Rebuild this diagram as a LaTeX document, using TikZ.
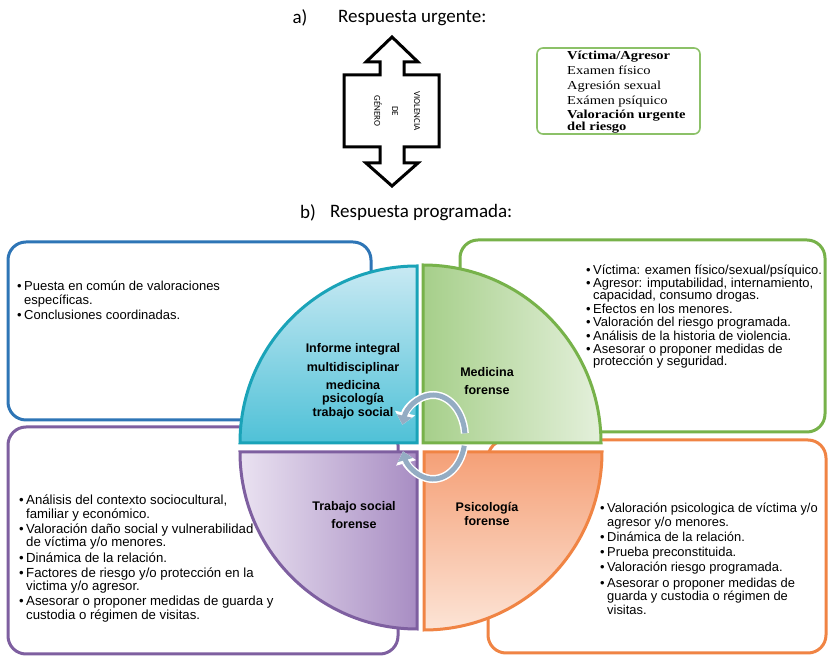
\documentclass[tikz,border=0pt]{standalone}
\usepackage{fontspec}
\setmainfont{Liberation Sans}
\newfontfamily\calib{Carlito}
\newfontfamily\tnr[FakeStretch=1.19]{Liberation Serif}
\usetikzlibrary{arrows.meta}
\definecolor{cBlueBox}{HTML}{2E75B6}
\definecolor{cGreenBox}{HTML}{77B24A}
\definecolor{cPurpleBox}{HTML}{7E5FA0}
\definecolor{cOrangeBox}{HTML}{F08444}
\definecolor{cTeal}{HTML}{1AA3B8}
\definecolor{cBlueTop}{HTML}{C8E9F3}
\definecolor{cBlueBot}{HTML}{4FC1D7}
\definecolor{cGreenL}{HTML}{A6CF8A}
\definecolor{cGreenR}{HTML}{E4F0DB}
\definecolor{cPurpL}{HTML}{EAE2F1}
\definecolor{cPurpR}{HTML}{A88DC3}
\definecolor{cOrT}{HTML}{F5A077}
\definecolor{cOrB}{HTML}{FCE4D6}
\definecolor{cCyc}{HTML}{94ACC3}
\definecolor{cUrgBox}{HTML}{8CC168}
\newcommand\bi{\makebox[7pt][l]{\textbullet}}
\newcommand\ci{\hspace*{7pt}}
\tikzset{
  infobox/.style={rounded corners=18pt, line width=3pt},
  sector/.style={line width=3pt},
  sectext/.style={align=center, inner sep=0pt},
  bultext/.style={align=left, inner sep=0pt, anchor=base west},
  ttl/.style={font=\calib\fontsize{19}{21}\selectfont, inner sep=0pt},
  urg/.style={font=\tnr\fontsize{12.2}{13}\selectfont, inner sep=0pt, anchor=base west},
  rot/.style={font=\calib\fontsize{9}{10}\selectfont, rotate=-90, inner sep=0pt},
}
\begin{document}
\begin{tikzpicture}[x=1pt,y=1pt]
\useasboundingbox[fill=white] (0,0) rectangle (828,658);

% ---------- a) ----------
\node[ttl] (ta) at (300,640) {a)};
\node[ttl, anchor=west] (tat) at (338,640) {Respuesta urgente:};

\draw[line width=3pt, line join=miter] (392,621) -- (418,596) -- (404,596) -- (404,583) -- (439,583)
  -- (439,511) -- (404,511) -- (404,495) -- (418,495) -- (392,472) -- (366,495) -- (380,495)
  -- (380,511) -- (344,511) -- (344,583) -- (380,583) -- (380,596) -- (366,596) -- cycle;
\node[rot] (v1) at (417,547) {VIOLENCIA};
\node[rot] (v2) at (395,547) {DE};
\node[rot] (v3) at (378,547) {GÉNERO};

\draw[cUrgBox, line width=1.6pt, rounded corners=6pt] (537,610) rectangle (700,524);
\node[urg] (u1) at (567,598.5) {\bfseries Víctima/Agresor};
\node[urg] (u2) at (567,583.5) {Examen físico};
\node[urg] (u3) at (567,568.5) {Agresión sexual};
\node[urg] (u4) at (567,553.5) {Exámen psíquico};
\node[urg] (u5) at (567,539) {\bfseries Valoración urgente};
\node[urg] (u6) at (567,527.5) {\bfseries del riesgo};

% ---------- b) ----------
\node[ttl] (tb) at (308,445) {b)};
\node[ttl, anchor=west] (tbt) at (330,445) {Respuesta programada:};

% boxes
\draw[infobox, cBlueBox] (8,416) rectangle (371,238);
\draw[infobox, cGreenBox] (460,418) rectangle (825,226);
\draw[infobox, cPurpleBox] (8,231) rectangle (398,4);
\draw[infobox, cOrangeBox] (488,218) rectangle (826,5);

% bullet texts (anchor = baseline of last line)
\node[bultext, font=\fontsize{13}{14.6}\selectfont] (tx1) at (17,338.5) {\bi Puesta en común de valoraciones\\ \ci específicas.\\ \bi Conclusiones coordinadas.};
\node[bultext, font=\fontsize{13}{12.4}\selectfont] (tx2) at (586,292) {\bi Víctima: examen físico/sexual/psíquico.\\[1pt]
\bi Agresor: imputabilidad, internamiento,\\ \ci capacidad, consumo drogas.\\[1pt]
\bi Efectos en los menores.\\[1pt]
\bi Valoración del riesgo programada.\\[1pt]
\bi Análisis de la historia de violencia.\\[1pt]
\bi Asesorar o proponer medidas de\\ \ci protección y seguridad.};
\node[bultext, font=\fontsize{13.2}{13.6}\selectfont] (tx3) at (19,38.5) {\bi Análisis del contexto sociocultural,\\ \ci familiar y económico.\\[1.5pt]
\bi Valoración daño social y vulnerabilidad\\ \ci de víctima y/o menores.\\[1.5pt]
\bi Dinámica de la relación.\\[1.5pt]
\bi Factores de riesgo y/o protección en la\\ \ci victima y/o agresor.\\[1.5pt]
\bi Asesorar o proponer medidas de guarda y\\ \ci custodia o régimen de visitas.};
\node[bultext, font=\fontsize{12.9}{13.7}\selectfont] (tx4) at (600,43.5) {\bi Valoración psicologica de víctima y/o\\ \ci agresor y/o menores.\\[1.5pt]
\bi Dinámica de la relación.\\[1.5pt]
\bi Prueba preconstituida.\\[1.5pt]
\bi Valoración riesgo programada.\\[1.5pt]
\bi Asesorar o proponer medidas de\\ \ci guarda y custodia o régimen de\\ \ci visitas.};

% sectors
\path[sector, draw=cTeal, top color=cBlueTop, bottom color=cBlueBot]
  (417,215) -- (240,215) arc[start angle=180, end angle=90, radius=177] -- cycle;
\path[sector, draw=cGreenBox, left color=cGreenL, right color=cGreenR]
  (423,215) -- (601,215) arc[start angle=0, end angle=90, radius=178] -- cycle;
\path[sector, draw=cPurpleBox, left color=cPurpL, right color=cPurpR]
  (417,206) -- (240,206) arc[start angle=180, end angle=270, radius=177] -- cycle;
\path[sector, draw=cOrangeBox, top color=cOrT, bottom color=cOrB]
  (424,206) -- (602,206) arc[start angle=0, end angle=-90, radius=178] -- cycle;

% sector labels
\node[sectext, font=\fontsize{12.5}{19}\selectfont\bfseries] (s1) at (353,299.5) {Informe integral\\ multidisciplinar};
\node[sectext, font=\fontsize{12.5}{13.5}\selectfont\bfseries] (s1b) at (353,258.5) {medicina\\ psicología\\ trabajo social};
\node[sectext, font=\fontsize{12.5}{18}\selectfont\bfseries] (s2) at (487,277) {Medicina\\ forense};
\node[sectext, font=\fontsize{12.5}{18}\selectfont\bfseries] (s3) at (354,143) {Trabajo social\\ forense};
\node[sectext, font=\fontsize{12.5}{14}\selectfont\bfseries] (s4) at (487,144) {Psicología\\ forense};

% cycle arrows
\coordinate (cc) at (433,221);
\draw[white, line width=8pt, -{Triangle[width=20pt,length=12pt]}]
  (cc) ++(5:32 and 42) arc[start angle=5, end angle=163, x radius=32, y radius=42];
\draw[cCyc, line width=5pt, -{Triangle[width=15pt,length=9pt]}]
  (cc) ++(5:32 and 42) arc[start angle=5, end angle=163, x radius=32, y radius=42];
\draw[white, line width=8pt, -{Triangle[width=20pt,length=12pt]}]
  (cc) ++(-12:32 and 42) arc[start angle=-12, end angle=-160, x radius=32, y radius=42];
\draw[cCyc, line width=5pt, -{Triangle[width=15pt,length=9pt]}]
  (cc) ++(-12:32 and 42) arc[start angle=-12, end angle=-160, x radius=32, y radius=42];
\end{tikzpicture}
\end{document}
